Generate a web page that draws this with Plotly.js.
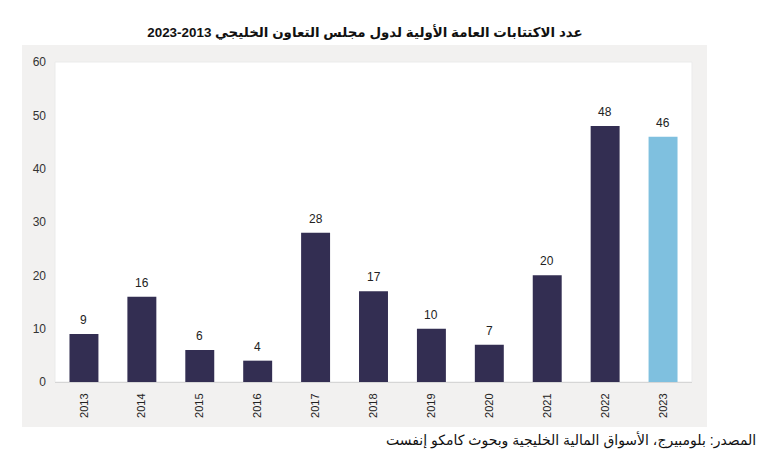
<!DOCTYPE html>
<html>
<head>
<meta charset="utf-8">
<script src="https://cdn.plot.ly/plotly-3.0.1.min.js"></script>
<style>html,body{margin:0;padding:0;background:#fff;}#chart{width:770px;height:471px;}</style>
</head>
<body>
<div id="chart"></div>
<script>
const years = ['2013','2014','2015','2016','2017','2018','2019','2020','2021','2022','2023'];
const ipoCounts = [9, 16, 6, 4, 28, 17, 10, 7, 20, 48, 46];
const barColors = ['#332e52','#332e52','#332e52','#332e52','#332e52','#332e52','#332e52','#332e52','#332e52','#332e52','#7fc0df'];
const titleText = 'عدد الاكتتابات العامة الأولية لدول مجلس التعاون الخليجي 2013-2023';
const sourceText = 'المصدر: بلومبيرج، الأسواق المالية الخليجية وبحوث كامكو إنفست';
const yTicks = [0, 10, 20, 30, 40, 50, 60];

const trace = {
  type: 'bar',
  x: years,
  y: ipoCounts,
  marker: {color: barColors, line: {width: 0}},
  width: 0.5,
  hoverinfo: 'x+y'
};

const valueLabels = years.map((yr, i) => ({
  x: i, y: ipoCounts[i], xref: 'x', yref: 'y',
  text: String(ipoCounts[i]), showarrow: false,
  yanchor: 'bottom', yshift: 5,
  font: {family: 'Liberation Sans, Arial, sans-serif', size: 12, color: '#222'}
}));

const layout = {
  width: 770, height: 471,
  margin: {l: 55, r: 78, t: 62, b: 89},
  paper_bgcolor: '#ffffff',
  plot_bgcolor: '#ffffff',
  showlegend: false,
  title: {
    text: titleText,
    x: 0.474, xanchor: 'center', y: 0.932, yanchor: 'middle',
    font: {family: 'Liberation Sans, Arial, DejaVu Sans, sans-serif', size: 13.4, color: '#111', weight: 'bold'}
  },
  xaxis: {
    type: 'category',
    range: [-0.5, years.length - 0.5],
    autorange: false,
    tickangle: -90,
    tickfont: {family: 'Liberation Sans, Arial, sans-serif', size: 11, color: '#222'},
    showline: true, linecolor: '#d6d6d6', linewidth: 1,
    ticks: '', showgrid: false, zeroline: false,
    ticklabelstandoff: 6,
    fixedrange: true
  },
  yaxis: {
    range: [0, 60],
    autorange: false,
    tickvals: yTicks,
    tickfont: {family: 'Liberation Sans, Arial, sans-serif', size: 12, color: '#333'},
    showgrid: false, zeroline: false, showline: false, ticks: '',
    ticklabelstandoff: 8,
    fixedrange: true
  },
  shapes: [{
    type: 'rect', xref: 'paper', yref: 'paper',
    x0: -0.0518, x1: 1.0235, y0: -0.141, y1: 1.053,
    fillcolor: '#f2f1f0', line: {width: 0}, layer: 'below'
  }, {
    type: 'rect', xref: 'paper', yref: 'paper',
    x0: 0, x1: 1, y0: 0, y1: 1,
    fillcolor: '#ffffff', line: {width: 1, color: '#ebebeb'}, layer: 'below'
  }],
  annotations: valueLabels.concat([{
    xref: 'paper', yref: 'paper', x: 1.1036, y: -0.181,
    xanchor: 'right', yanchor: 'middle', showarrow: false,
    text: sourceText,
    font: {family: 'Liberation Sans, Arial, DejaVu Sans, sans-serif', size: 14, color: '#111'}
  }])
};

Plotly.newPlot('chart', [trace], layout, {displayModeBar: false, staticPlot: true});
</script>
</body>
</html>
